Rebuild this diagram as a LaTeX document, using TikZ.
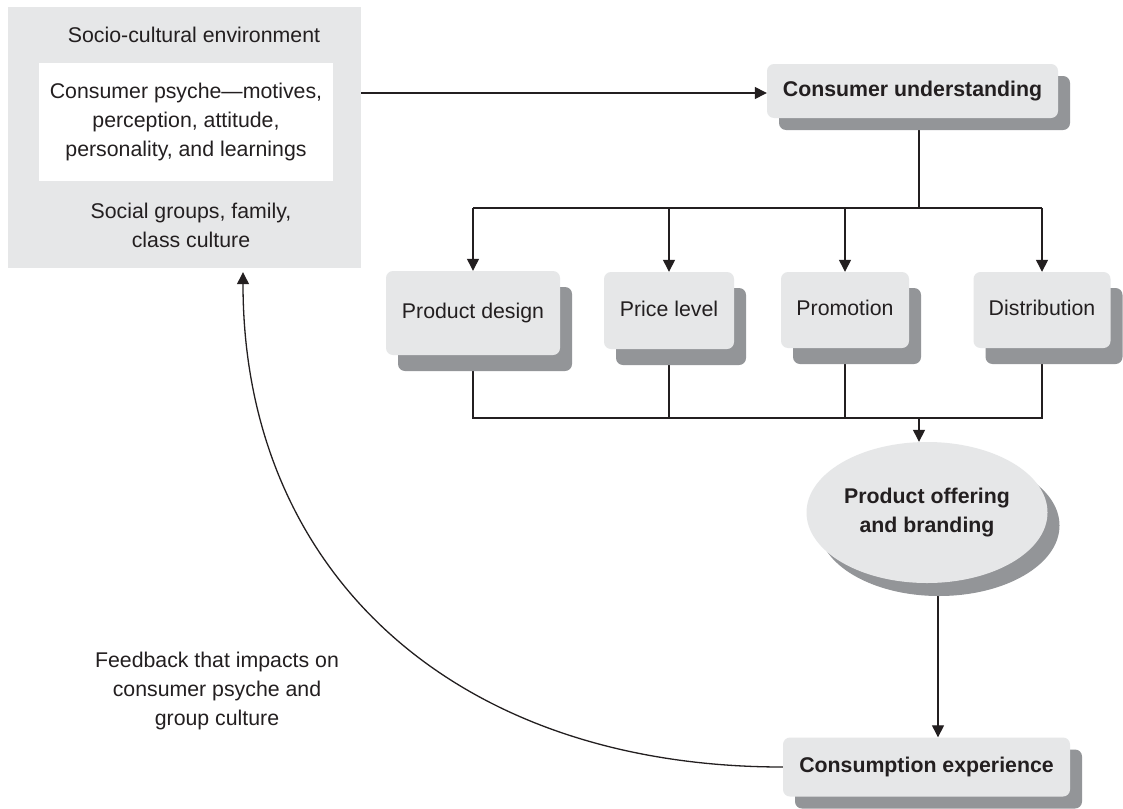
\documentclass[tikz,border=0pt]{standalone}
\usepackage{fontspec}
\setmainfont{Liberation Sans}
\usetikzlibrary{arrows.meta,shapes.geometric,shadows,backgrounds}
\definecolor{boxgrey}{HTML}{E6E7E8}
\definecolor{shadegrey}{HTML}{939598}
\definecolor{ink}{HTML}{231F20}
\begin{document}
\begin{tikzpicture}[x=1pt,y=-1pt,
  txt/.style={font=\fontsize{21.3pt}{29pt}\selectfont, text=ink, inner sep=0pt, align=center},
  bold/.style={font=\fontsize{21.3pt}{29pt}\selectfont\bfseries},
  shadA/.style={drop shadow={shadow xshift=12pt, shadow yshift=-16pt, fill=shadegrey, opacity=1}},
  shadB/.style={drop shadow={shadow xshift=12pt, shadow yshift=-12pt, fill=shadegrey, opacity=1}},
  shadC/.style={drop shadow={shadow xshift=12pt, shadow yshift=-13pt, fill=shadegrey, opacity=1}},
  mbox/.style={txt, rounded corners=7pt, fill=boxgrey, text height=15.5pt, text depth=4.5pt},
  conn/.style={draw=ink, line width=1.3pt},
  arr/.style={conn, -{Triangle[length=12pt,width=12pt]}}
]
\useasboundingbox (0,0) rectangle (1123,808);
% left environment block
\node[fill=boxgrey, minimum width=353pt, minimum height=261pt, inner sep=0pt] (env) at (184.5,137.5) {};
\node[txt, anchor=base] (socio) at (194,43) {Socio-cultural environment};
\node[txt, fill=white, minimum width=294pt, minimum height=118pt] (psyche) at (186,122)
  {Consumer psyche—motives,\\ perception, attitude,\\ personality, and learnings};
\node[txt] (social) at (191,225) {Social groups, family,\\ class culture};
% right column
\node[mbox, bold, minimum width=291pt, minimum height=54pt, shadB] (cu) at (912.5,91) {Consumer understanding};
\node[mbox, minimum width=174pt, minimum height=84pt, shadA] (pd) at (473,313) {Product design};
\node[mbox, minimum width=130pt, minimum height=77pt, shadA] (pl) at (669,310.5) {Price level};
\node[mbox, minimum width=128pt, minimum height=76pt, shadA] (pr) at (845,310) {Promotion};
\node[mbox, minimum width=137pt, minimum height=76pt, shadA] (di) at (1042,310) {Distribution};
\node[ellipse, fill=boxgrey, txt, bold, minimum width=241pt, minimum height=141pt, shadC] (po) at (927,512.5)
  {Product offering\\ and branding};
\node[mbox, bold, minimum width=287pt, minimum height=59pt, shadB] (cs) at (926.5,767) {Consumption experience};
\node[txt] (fb) at (217,690.5) {Feedback that impacts on\\ consumer psyche and\\ group culture};
% connectors
\coordinate (cuin) at ([yshift=-2pt]cu.west);
\coordinate (bus1) at (473,208);
\coordinate (bus2) at (473,418);
\coordinate (poin) at (919,0);
\coordinate (fbx) at (243,0);
\begin{scope}[on background layer]
\fill[white] (0,0) rectangle (1123,808);
\draw[arr] (env.east |- cuin) -- (cuin);
\draw[conn] ([xshift=6.5pt]cu.south) -- ([xshift=6.5pt]cu.south |- bus1);
\draw[conn] (pd.north |- bus1) -- (di.north |- bus1);
\draw[arr] (pd.north |- bus1) -- (pd.north);
\draw[arr] (pl.north |- bus1) -- (pl.north);
\draw[arr] (pr.north |- bus1) -- (pr.north);
\draw[arr] (di.north |- bus1) -- (di.north);
\draw[conn] (pd.south) -- (pd.south |- bus2) -- (di.south |- bus2) -- (di.south);
\draw[conn] (pl.south) -- (pl.south |- bus2);
\draw[conn] (pr.south) -- (pr.south |- bus2);
\draw[arr] (poin |- bus2) -- (poin |- po.north);
\draw[arr] ([xshift=11pt]po.south) -- ([xshift=11pt]po.south |- cs.north);
\draw[arr, shorten >=4pt] (cs.west) .. controls +(-329,0) and +(0,304) .. (env.south -| fbx);
\end{scope}
\end{tikzpicture}
\end{document}
